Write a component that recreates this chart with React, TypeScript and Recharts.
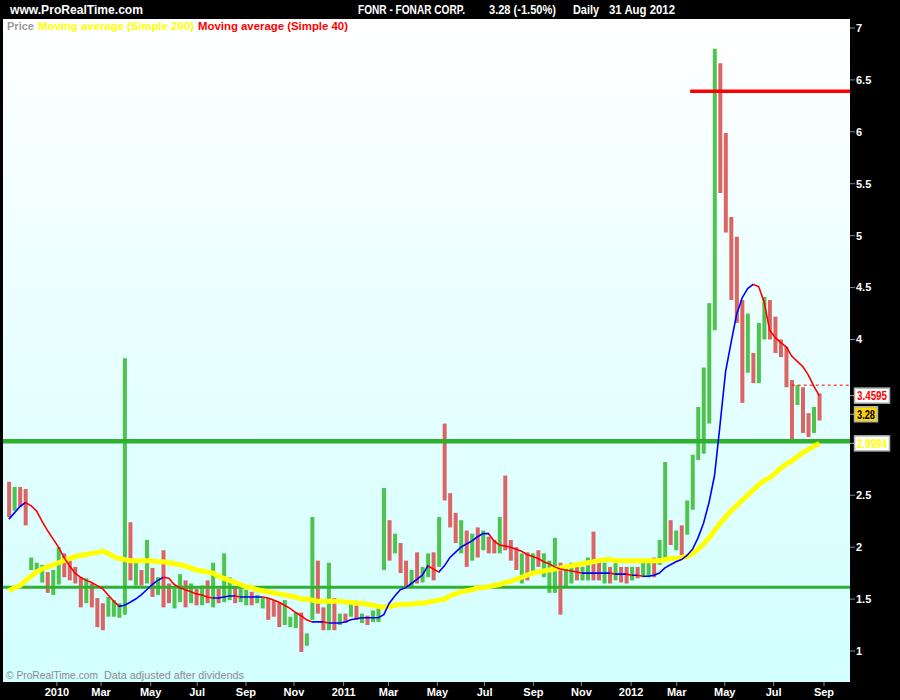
import React from "react";
import { ComposedChart, Bar, Line, XAxis, YAxis, ReferenceLine, Cell } from "recharts";

const FONT = "'Liberation Sans', Arial, sans-serif";

// one bar per week, the first week centred on Wed 4 Nov 2009
const weekHigh = [
  2.63, 2.58, 2.58, 2.56, 1.9, 1.85, 1.83, 1.76, 1.78, 2.0,
  1.94, 1.87, 1.81, 1.71, 1.7, 1.65, 1.51, 1.46, 1.52, 1.49,
  1.46, 3.82, 2.24, 1.85, 1.78, 2.07, 1.8, 1.71, 1.97, 1.65,
  1.6, 1.74, 1.68, 1.65, 1.6, 1.63, 1.68, 1.85, 1.6, 1.94,
  1.71, 1.61, 1.6, 1.59, 1.57, 1.54, 1.51, 1.51, 1.49, 1.47,
  1.49, 1.33, 1.37, 1.37, 1.17, 2.29, 1.87, 1.42, 1.85, 1.51,
  1.36, 1.36, 1.49, 1.44, 1.36, 1.34, 1.39, 1.42, 2.57, 2.26,
  2.13, 2.04, 1.87, 1.78, 1.95, 1.81, 1.94, 1.95, 2.29, 3.19,
  2.52, 2.33, 2.26, 2.16, 2.13, 2.19, 2.16, 2.1, 2.07, 2.29,
  2.69, 2.07, 2.0, 1.94, 1.95, 1.94, 1.97, 1.94, 1.87, 2.09,
  1.85, 1.81, 1.85, 1.81, 1.81, 1.9, 2.15, 1.87, 1.85, 1.81,
  1.85, 1.81, 1.81, 1.81, 1.81, 1.85, 1.85, 1.9, 2.07, 2.82,
  2.26, 2.16, 2.21, 2.45, 2.89, 3.35, 3.73, 4.35, 6.8, 6.66,
  5.99, 5.18, 4.99, 4.38, 4.25, 3.87, 4.16, 4.41, 4.38, 4.22,
  4.0, 3.93, 3.61, 3.56, 3.54, 3.29, 3.35, 3.48,
];
const weekLow = [
  2.29, 2.35, 2.39, 2.21, 1.78, 1.78, 1.66, 1.56, 1.54, 1.64,
  1.71, 1.68, 1.65, 1.42, 1.46, 1.42, 1.23, 1.2, 1.33, 1.33,
  1.32, 1.35, 1.68, 1.63, 1.63, 1.65, 1.52, 1.54, 1.42, 1.46,
  1.41, 1.47, 1.42, 1.46, 1.44, 1.44, 1.46, 1.42, 1.46, 1.47,
  1.49, 1.46, 1.47, 1.44, 1.44, 1.46, 1.41, 1.3, 1.33, 1.23,
  1.25, 1.23, 1.22, 0.99, 1.05, 1.3, 1.36, 1.2, 1.2, 1.2,
  1.25, 1.27, 1.33, 1.3, 1.27, 1.25, 1.28, 1.28, 1.78, 1.87,
  1.94, 1.75, 1.61, 1.61, 1.65, 1.66, 1.71, 1.68, 1.81, 2.45,
  2.19, 2.04, 1.94, 1.81, 1.87, 1.9, 1.97, 1.94, 1.94, 1.94,
  1.97, 1.87, 1.78, 1.65, 1.68, 1.75, 1.81, 1.71, 1.56, 1.56,
  1.35, 1.61, 1.65, 1.68, 1.68, 1.68, 1.68, 1.68, 1.65, 1.65,
  1.68, 1.66, 1.65, 1.68, 1.7, 1.71, 1.71, 1.71, 1.83, 1.87,
  2.02, 1.97, 1.92, 2.12, 2.36, 2.84, 2.9, 3.19, 4.09, 5.41,
  5.03, 4.38, 4.16, 3.39, 3.68, 3.58, 3.58, 4.0, 4.0, 3.87,
  3.83, 3.54, 3.03, 3.37, 3.1, 3.06, 3.1, 3.22,
];
// 1 = up week (green), 0 = down week (red)
const weekUp = [
  0, 1, 0, 0, 1, 1, 1, 0, 1, 1,
  0, 0, 0, 0, 1, 0, 0, 0, 1, 1,
  1, 1, 0, 1, 0, 1, 0, 1, 0, 0,
  1, 1, 0, 1, 0, 1, 0, 1, 0, 1,
  1, 0, 1, 1, 0, 1, 1, 0, 0, 0,
  1, 1, 1, 0, 1, 1, 0, 0, 1, 0,
  1, 0, 1, 0, 1, 0, 1, 1, 1, 0,
  1, 0, 0, 1, 0, 1, 1, 0, 1, 0,
  0, 0, 1, 0, 1, 0, 1, 0, 0, 1,
  0, 0, 0, 1, 0, 1, 0, 1, 1, 1,
  0, 1, 1, 0, 1, 1, 0, 0, 1, 0,
  1, 0, 0, 1, 0, 1, 1, 0, 1, 1,
  0, 1, 0, 1, 1, 1, 1, 1, 1, 0,
  0, 0, 0, 0, 1, 0, 1, 1, 0, 0,
  0, 0, 0, 1, 0, 0, 1, 0,
];
const ma40 = [
  2.27, 2.33, 2.39, 2.43, 2.4, 2.35, 2.25, 2.16, 2.08, 2.0,
  1.9, 1.82, 1.75, 1.71, 1.68, 1.66, 1.63, 1.6, 1.54, 1.48,
  1.43, 1.44, 1.47, 1.5, 1.54, 1.59, 1.64, 1.68, 1.71, 1.7,
  1.64, 1.61, 1.59, 1.57, 1.55, 1.54, 1.52, 1.51, 1.51, 1.52,
  1.53, 1.53, 1.52, 1.52, 1.52, 1.52, 1.52, 1.51, 1.49, 1.47,
  1.44, 1.41, 1.37, 1.34, 1.3, 1.28, 1.28, 1.28, 1.27, 1.27,
  1.27, 1.28, 1.3, 1.31, 1.32, 1.32, 1.32, 1.32, 1.35, 1.46,
  1.53, 1.59, 1.61, 1.65, 1.69, 1.73, 1.82, 1.79, 1.76, 1.82,
  1.9, 1.95, 2.0, 2.03, 2.06, 2.1, 2.13, 2.13, 2.06, 2.02,
  2.01, 2.0, 1.98, 1.96, 1.93, 1.91, 1.89, 1.86, 1.84, 1.81,
  1.79, 1.78, 1.77, 1.76, 1.75, 1.75, 1.75, 1.75, 1.75, 1.75,
  1.74, 1.74, 1.74, 1.73, 1.73, 1.72, 1.72, 1.73, 1.75, 1.8,
  1.83, 1.86, 1.88, 1.92, 1.98, 2.09, 2.23, 2.43, 2.69, 3.18,
  3.69, 3.97, 4.24, 4.4, 4.49, 4.53, 4.51, 4.36, 4.09, 4.02,
  3.97, 3.93, 3.84, 3.79, 3.74, 3.66, 3.55, 3.46,
];
const ma200 = [
  1.58, 1.61, 1.63, 1.68, 1.72, 1.76, 1.79, 1.81, 1.83, 1.85,
  1.87, 1.89, 1.91, 1.92, 1.93, 1.94, 1.95, 1.96, 1.94, 1.91,
  1.89, 1.88, 1.87, 1.87, 1.87, 1.87, 1.87, 1.86, 1.86, 1.85,
  1.84, 1.83, 1.82, 1.8, 1.78, 1.77, 1.76, 1.75, 1.72, 1.7,
  1.68, 1.66, 1.64, 1.62, 1.61, 1.59, 1.58, 1.57, 1.56, 1.55,
  1.54, 1.53, 1.52, 1.5, 1.5, 1.49, 1.48, 1.48, 1.48, 1.48,
  1.48, 1.47, 1.47, 1.46, 1.46, 1.45, 1.44, 1.43, 1.42, 1.43,
  1.44, 1.45, 1.45, 1.45, 1.46, 1.46, 1.47, 1.48, 1.49, 1.5,
  1.53, 1.55, 1.57, 1.58, 1.59, 1.61, 1.61, 1.62, 1.63, 1.64,
  1.66, 1.67, 1.69, 1.71, 1.73, 1.75, 1.76, 1.77, 1.78, 1.79,
  1.8, 1.81, 1.82, 1.83, 1.84, 1.85, 1.86, 1.87, 1.88, 1.88,
  1.87, 1.87, 1.87, 1.87, 1.87, 1.87, 1.87, 1.87, 1.87, 1.88,
  1.89, 1.89, 1.9, 1.91, 1.94, 1.98, 2.03, 2.09, 2.16, 2.23,
  2.29, 2.35, 2.4, 2.45, 2.5, 2.55, 2.6, 2.64, 2.67, 2.71,
  2.76, 2.8, 2.83, 2.87, 2.91, 2.94, 2.97, 3.0,
];

const tickDates = [
  "2010-01-04", "2010-03-01", "2010-05-03", "2010-07-01", "2010-09-01", "2010-11-01",
  "2011-01-03", "2011-03-01", "2011-05-02", "2011-07-01", "2011-09-01", "2011-11-01",
  "2012-01-03", "2012-03-01", "2012-05-01", "2012-07-02", "2012-09-04",
];
const tickLabels = [
  "2010", "Mar", "May", "Jul", "Sep", "Nov",
  "2011", "Mar", "May", "Jul", "Sep", "Nov",
  "2012", "Mar", "May", "Jul", "Sep",
];
const yTicks = [1, 1.5, 2, 2.5, 4, 4.5, 5, 5.5, 6, 6.5, 7];

// drawn levels and last values
const supportHigh = 3.02;
const supportLow = 1.615;
const resistance = 6.39;
const resistanceFrom = "2012-03-18";
const prevLevel = 3.56;
const prevLevelFrom = "2012-07-25";
const lastMa40 = 3.4595;
const lastClose = 3.28;
const lastMa200 = 2.9994;

const ORIGIN = Date.UTC(2009, 9, 28);
const dayOf = (s: string) => (Date.parse(s) - ORIGIN) / 86400000;
const FIRST_WEEK = dayOf("2009-11-04");
const X_MIN = -0.5;
const X_MAX = 1075;

const GREEN_BAR = "#4ec44e";
const RED_BAR = "#dc6464";
const LEVEL_GREEN = "#30b030";
const YELLOW = "#ffff00";
const BLUE = "#0000ff";
const RED = "#ff0000";

const tickDays = tickDates.map(dayOf);

function ValueBox(props: any) {
  const { viewBox, text, color, bg, boxW, textW } = props;
  if (!viewBox) return null;
  const x = viewBox.x + viewBox.width;
  const y = viewBox.y;
  return (
    <g>
      <line x1={x} x2={x + 4} y1={y} y2={y} stroke="#9aa" />
      <rect x={x + 4.5} y={y - 7.5} width={boxW} height={15} fill={bg} stroke="#a8b4b4" strokeWidth={1.5} />
      <text
        x={x + 7}
        y={y + 4.5}
        fill={color}
        fontSize={12}
        fontWeight="bold"
        fontFamily={FONT}
        textLength={textW}
        lengthAdjust="spacingAndGlyphs"
      >
        {text}
      </text>
    </g>
  );
}

export default function App() {
  const rows = weekHigh.map((h, i) => ({
    t: FIRST_WEEK + 7 * i,
    range: [weekLow[i], h],
    ma40: ma40[i],
    ma200: ma200[i],
  }));

  // ma40 is blue while rising, red while falling
  const n = ma40.length;
  const stops: React.ReactNode[] = [];
  for (let i = 0; i < n - 1; i++) {
    const c = ma40[i + 1] >= ma40[i] ? BLUE : RED;
    stops.push(<stop key={i + "a"} offset={i / (n - 1)} stopColor={c} />);
    stops.push(<stop key={i + "b"} offset={(i + 1) / (n - 1)} stopColor={c} />);
  }

  return (
    <div
      style={{
        position: "absolute",
        left: 0,
        top: 0,
        width: 900,
        height: 700,
        background: "#000",
        fontFamily: FONT,
        overflow: "hidden",
      }}
    >
      <div
        style={{
          position: "absolute",
          left: 3,
          top: 19,
          width: 847,
          height: 663,
          background: "linear-gradient(#ffffff, #d2ffff)",
        }}
      />
      <div style={{ position: "absolute", left: 0, top: 0 }}>
        <ComposedChart width={900} height={700} data={rows} margin={{ top: 19, right: 0, bottom: 0, left: 3 }}>
          <defs>
            <linearGradient id="ma40Grad" x1="0" y1="0" x2="1" y2="0">
              {stops}
            </linearGradient>
          </defs>
          <XAxis
            dataKey="t"
            type="number"
            domain={[X_MIN, X_MAX]}
            allowDataOverflow
            ticks={tickDays}
            interval={0}
            tickFormatter={(v: number) => tickLabels[tickDays.indexOf(v)] ?? ""}
            height={18}
            tickSize={4}
            tickMargin={2}
            axisLine={false}
            tickLine={{ stroke: "#8a8a8a" }}
            tick={{ fill: "#fff", fontSize: 11, fontWeight: "bold", fontFamily: FONT }}
          />
          <YAxis
            orientation="right"
            width={50}
            domain={[0.7013, 7.0867]}
            allowDataOverflow
            ticks={yTicks}
            interval={0}
            tickSize={5}
            tickMargin={1}
            axisLine={false}
            tickLine={{ stroke: "#8a8a8a" }}
            tick={{ fill: "#fff", fontSize: 11, fontWeight: "bold", fontFamily: FONT }}
          />
          <Bar dataKey="range" barSize={4} isAnimationActive={false}>
            {rows.map((_, i) => (
              <Cell key={i} fill={weekUp[i] ? GREEN_BAR : RED_BAR} />
            ))}
          </Bar>
          <ReferenceLine y={supportLow} stroke={LEVEL_GREEN} strokeWidth={3} />
          <ReferenceLine y={supportHigh} stroke={LEVEL_GREEN} strokeWidth={4.5} />
          <ReferenceLine
            segment={[
              { x: dayOf(resistanceFrom), y: resistance },
              { x: X_MAX, y: resistance },
            ]}
            stroke={RED}
            strokeWidth={3.5}
          />
          <ReferenceLine
            segment={[
              { x: dayOf(prevLevelFrom), y: prevLevel },
              { x: X_MAX, y: prevLevel },
            ]}
            stroke={RED}
            strokeWidth={1}
            strokeDasharray="3 3"
          />
          <Line
            type="linear"
            dataKey="ma200"
            stroke={YELLOW}
            strokeWidth={5}
            dot={false}
            isAnimationActive={false}
          />
          <Line
            type="linear"
            dataKey="ma40"
            stroke="url(#ma40Grad)"
            strokeWidth={1.6}
            dot={false}
            isAnimationActive={false}
          />
          <ReferenceLine
            y={lastMa40}
            stroke="none"
            label={<ValueBox text="3.4595" color={RED} bg="#ffffff" boxW={35} textW={30} />}
          />
          <ReferenceLine
            y={lastClose}
            stroke="none"
            label={<ValueBox text="3.28" color="#000" bg="#ffd400" boxW={23} textW={18} />}
          />
          <ReferenceLine
            y={lastMa200}
            stroke="none"
            label={<ValueBox text="2.9994" color={YELLOW} bg="#ffffff" boxW={35} textW={30} />}
          />
        </ComposedChart>
      </div>
      <svg
        width={900}
        height={700}
        style={{ position: "absolute", left: 0, top: 0, pointerEvents: "none" }}
        fontFamily={FONT}
      >
        <g fill="#fff" fontSize={12} fontWeight="bold">
          <text x={10} y={14} textLength={133} lengthAdjust="spacingAndGlyphs">
            www.ProRealTime.com
          </text>
          <text x={358} y={14} textLength={107} lengthAdjust="spacingAndGlyphs">
            FONR - FONAR CORP.
          </text>
          <text x={489} y={14} textLength={67} lengthAdjust="spacingAndGlyphs">
            3.28 (-1.50%)
          </text>
          <text x={573} y={14} textLength={26} lengthAdjust="spacingAndGlyphs">
            Daily
          </text>
          <text x={609} y={14} textLength={66} lengthAdjust="spacingAndGlyphs">
            31 Aug 2012
          </text>
        </g>
        <g fontSize={11} fontWeight="bold">
          <text x={7} y={30} fill="#9a9a9a" textLength={27} lengthAdjust="spacingAndGlyphs">
            Price
          </text>
          <text x={38} y={30} fill={YELLOW} textLength={156} lengthAdjust="spacingAndGlyphs">
            Moving average (Simple 200)
          </text>
          <text x={198} y={30} fill={RED} textLength={150} lengthAdjust="spacingAndGlyphs">
            Moving average (Simple 40)
          </text>
        </g>
        <g fontSize={11} fill="#8c8c8c">
          <text x={6} y={679} textLength={92} lengthAdjust="spacingAndGlyphs">
            © ProRealTime.com
          </text>
          <text x={104} y={679} textLength={140} lengthAdjust="spacingAndGlyphs">
            Data adjusted after dividends
          </text>
        </g>
      </svg>
    </div>
  );
}
